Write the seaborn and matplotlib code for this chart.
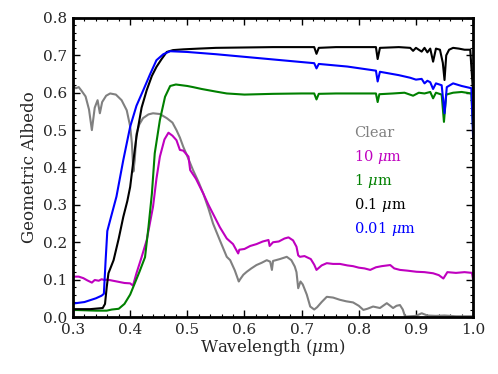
import numpy as np
import pandas as pd
import matplotlib
matplotlib.use("Agg")
import matplotlib.pyplot as plt
from matplotlib.ticker import MultipleLocator
import seaborn as sns

# Clear sky (no haze)
clear_wl = [0.300, 0.305, 0.310, 0.315, 0.322, 0.328, 0.333, 0.338, 0.343, 0.347, 0.351, 0.358,
            0.365, 0.375, 0.385, 0.394, 0.400, 0.403, 0.4056, 0.408, 0.411, 0.416, 0.4225, 0.432,
            0.440, 0.452, 0.464, 0.474, 0.481, 0.487, 0.493, 0.500, 0.510, 0.520, 0.528, 0.537,
            0.545, 0.557, 0.569, 0.575, 0.583, 0.590, 0.592, 0.598, 0.604, 0.612, 0.621, 0.630,
            0.639, 0.645, 0.648, 0.650, 0.662, 0.674, 0.682, 0.688, 0.691, 0.694, 0.698, 0.702,
            0.709, 0.715, 0.722, 0.727, 0.735, 0.744, 0.755, 0.767, 0.778, 0.790, 0.800, 0.808,
            0.815, 0.825, 0.837, 0.849, 0.855, 0.860, 0.866, 0.872, 0.877, 0.881, 0.890, 0.900,
            0.910, 0.920, 0.935, 0.950, 0.970, 1.000]
clear_alb = [0.618, 0.612, 0.615, 0.605, 0.590, 0.555, 0.500, 0.560, 0.580, 0.545, 0.575, 0.592,
             0.598, 0.595, 0.580, 0.553, 0.510, 0.465, 0.389, 0.420, 0.490, 0.515, 0.532, 0.542,
             0.545, 0.543, 0.532, 0.520, 0.500, 0.480, 0.455, 0.430, 0.393, 0.360, 0.330, 0.290,
             0.250, 0.205, 0.161, 0.152, 0.125, 0.095, 0.100, 0.113, 0.121, 0.130, 0.139, 0.145,
             0.152, 0.148, 0.126, 0.150, 0.155, 0.161, 0.152, 0.135, 0.120, 0.077, 0.095, 0.087,
             0.060, 0.028, 0.020, 0.026, 0.040, 0.054, 0.052, 0.046, 0.042, 0.039, 0.030, 0.019,
             0.022, 0.028, 0.024, 0.037, 0.030, 0.024, 0.030, 0.032, 0.020, 0.001, 0.002, 0.003,
             0.010, 0.004, 0.003, 0.004, 0.002, 0.002]

# 10 micron particles
p10_wl = [0.300, 0.310, 0.318, 0.325, 0.333, 0.338, 0.345, 0.350, 0.355, 0.360, 0.370, 0.380,
          0.390, 0.400, 0.405, 0.411, 0.420, 0.429, 0.440, 0.446, 0.452, 0.460, 0.467, 0.474,
          0.481, 0.487, 0.493, 0.502, 0.505, 0.515, 0.528, 0.537, 0.546, 0.557, 0.569, 0.580,
          0.589, 0.591, 0.600, 0.610, 0.621, 0.632, 0.642, 0.644, 0.650, 0.660, 0.670, 0.677,
          0.685, 0.691, 0.694, 0.697, 0.705, 0.716, 0.722, 0.726, 0.735, 0.744, 0.755, 0.767,
          0.780, 0.790, 0.800, 0.810, 0.820, 0.830, 0.840, 0.855, 0.862, 0.872, 0.885, 0.901,
          0.915, 0.930, 0.940, 0.948, 0.955, 0.970, 0.985, 0.998, 1.000]
p10_alb = [0.108, 0.108, 0.104, 0.098, 0.092, 0.099, 0.097, 0.101, 0.099, 0.100, 0.097, 0.094,
           0.091, 0.090, 0.084, 0.117, 0.160, 0.206, 0.295, 0.370, 0.429, 0.475, 0.493, 0.485,
           0.473, 0.447, 0.445, 0.429, 0.393, 0.370, 0.330, 0.300, 0.273, 0.240, 0.210, 0.195,
           0.170, 0.180, 0.182, 0.190, 0.195, 0.202, 0.206, 0.190, 0.200, 0.202, 0.210, 0.213,
           0.205, 0.188, 0.165, 0.161, 0.163, 0.155, 0.140, 0.126, 0.138, 0.144, 0.142, 0.142,
           0.138, 0.136, 0.132, 0.130, 0.126, 0.133, 0.136, 0.139, 0.130, 0.126, 0.124, 0.121,
           0.120, 0.117, 0.112, 0.103, 0.120, 0.118, 0.120, 0.118, 0.100]

# 1 micron particles
p1_wl = [0.300, 0.320, 0.340, 0.359, 0.368, 0.380, 0.390, 0.400, 0.408, 0.416, 0.426, 0.432,
         0.438, 0.443, 0.452, 0.461, 0.470, 0.480, 0.490, 0.500, 0.510, 0.525, 0.550, 0.569,
         0.600, 0.650, 0.700, 0.722, 0.726, 0.730, 0.760, 0.800, 0.830, 0.833, 0.836, 0.860,
         0.880, 0.895, 0.905, 0.915, 0.925, 0.930, 0.935, 0.945, 0.949, 0.953, 0.965, 0.980,
         0.997, 1.000]
p1_alb = [0.019, 0.018, 0.017, 0.017, 0.020, 0.022, 0.035, 0.060, 0.090, 0.120, 0.160, 0.240,
          0.330, 0.438, 0.527, 0.589, 0.618, 0.622, 0.620, 0.618, 0.615, 0.610, 0.603, 0.598,
          0.595, 0.597, 0.598, 0.598, 0.582, 0.597, 0.598, 0.598, 0.598, 0.575, 0.596, 0.598,
          0.600, 0.592, 0.600, 0.598, 0.602, 0.585, 0.600, 0.595, 0.522, 0.595, 0.600, 0.602,
          0.598, 0.500]

# 0.1 micron particles
p01_wl = [0.300, 0.330, 0.352, 0.356, 0.359, 0.362, 0.371, 0.380, 0.388, 0.395, 0.400, 0.405,
          0.411, 0.420, 0.429, 0.438, 0.446, 0.455, 0.464, 0.475, 0.493, 0.520, 0.550, 0.600,
          0.650, 0.700, 0.722, 0.726, 0.730, 0.760, 0.800, 0.830, 0.833, 0.837, 0.870, 0.890,
          0.895, 0.900, 0.910, 0.915, 0.920, 0.925, 0.930, 0.935, 0.942, 0.947, 0.950, 0.953,
          0.958, 0.965, 0.975, 0.985, 0.995, 1.000]
p01_alb = [0.021, 0.021, 0.024, 0.035, 0.080, 0.117, 0.152, 0.210, 0.268, 0.310, 0.348, 0.410,
           0.482, 0.560, 0.607, 0.645, 0.669, 0.690, 0.709, 0.714, 0.716, 0.718, 0.720, 0.721,
           0.722, 0.722, 0.722, 0.704, 0.720, 0.722, 0.722, 0.722, 0.690, 0.720, 0.722, 0.720,
           0.712, 0.720, 0.710, 0.720, 0.708, 0.718, 0.683, 0.718, 0.715, 0.680, 0.634, 0.700,
           0.715, 0.720, 0.718, 0.715, 0.715, 0.600]

# 0.01 micron particles
p001_wl = [0.300, 0.320, 0.340, 0.350, 0.354, 0.357, 0.360, 0.365, 0.376, 0.388, 0.400, 0.411,
           0.423, 0.435, 0.446, 0.458, 0.470, 0.500, 0.550, 0.600, 0.650, 0.700, 0.722, 0.726,
           0.730, 0.780, 0.830, 0.833, 0.837, 0.870, 0.890, 0.900, 0.910, 0.915, 0.920, 0.925,
           0.930, 0.935, 0.945, 0.950, 0.954, 0.965, 0.980, 0.997, 1.000]
p001_alb = [0.036, 0.040, 0.050, 0.057, 0.062, 0.150, 0.230, 0.259, 0.322, 0.420, 0.509, 0.565,
            0.607, 0.650, 0.687, 0.703, 0.711, 0.709, 0.703, 0.696, 0.689, 0.682, 0.679, 0.665,
            0.677, 0.670, 0.659, 0.630, 0.656, 0.647, 0.640, 0.635, 0.637, 0.625, 0.632, 0.628,
            0.610, 0.625, 0.620, 0.545, 0.615, 0.625, 0.618, 0.612, 0.480]

labels = ["Clear", "10 $\\mu$m", "1 $\\mu$m", "0.1 $\\mu$m", "0.01 $\\mu$m"]
colors = ["gray", "m", "g", "k", "b"]
series = [(clear_wl, clear_alb), (p10_wl, p10_alb), (p1_wl, p1_alb),
          (p01_wl, p01_alb), (p001_wl, p001_alb)]

sns.set_style("ticks")
plt.rcParams["font.family"] = ["DejaVu Serif"]
plt.rcParams["mathtext.fontset"] = "dejavuserif"

fig = plt.figure(figsize=(4.98, 3.74), dpi=100)
ax = fig.add_axes([0.1466, 0.1524, 0.8034, 0.7996])

for (wl, alb), lab, c in zip(series, labels, colors):
    df = pd.DataFrame({"wl": wl, "alb": alb})
    sns.lineplot(data=df, x="wl", y="alb", color=c, lw=1.5, sort=False,
                 estimator=None, ax=ax)

ax.set_xlim(0.3, 1.0)
ax.set_ylim(0.0, 0.8)
ax.xaxis.set_major_locator(MultipleLocator(0.1))
ax.xaxis.set_minor_locator(MultipleLocator(0.02))
ax.yaxis.set_major_locator(MultipleLocator(0.1))
ax.yaxis.set_minor_locator(MultipleLocator(0.02))
ax.tick_params(which="both", direction="in", top=True, right=True, labelsize=11,
               color="k", pad=4)
ax.tick_params(which="major", length=5, width=1)
ax.tick_params(which="minor", length=2.5, width=0.8)
for s in ax.spines.values():
    s.set_linewidth(2)
    s.set_color("k")

ax.set_xlabel("Wavelength ($\\mu$m)", fontsize=12, labelpad=0)
ax.set_ylabel("Geometric Albedo", fontsize=12, labelpad=4)

label_y = [0.492, 0.428, 0.364, 0.300, 0.235]
for lab, c, y in zip(labels, colors, label_y):
    ax.text(0.792, y, lab, color=c, fontsize=10.5, va="center", ha="left")

fig.savefig("out.png", dpi=100)
